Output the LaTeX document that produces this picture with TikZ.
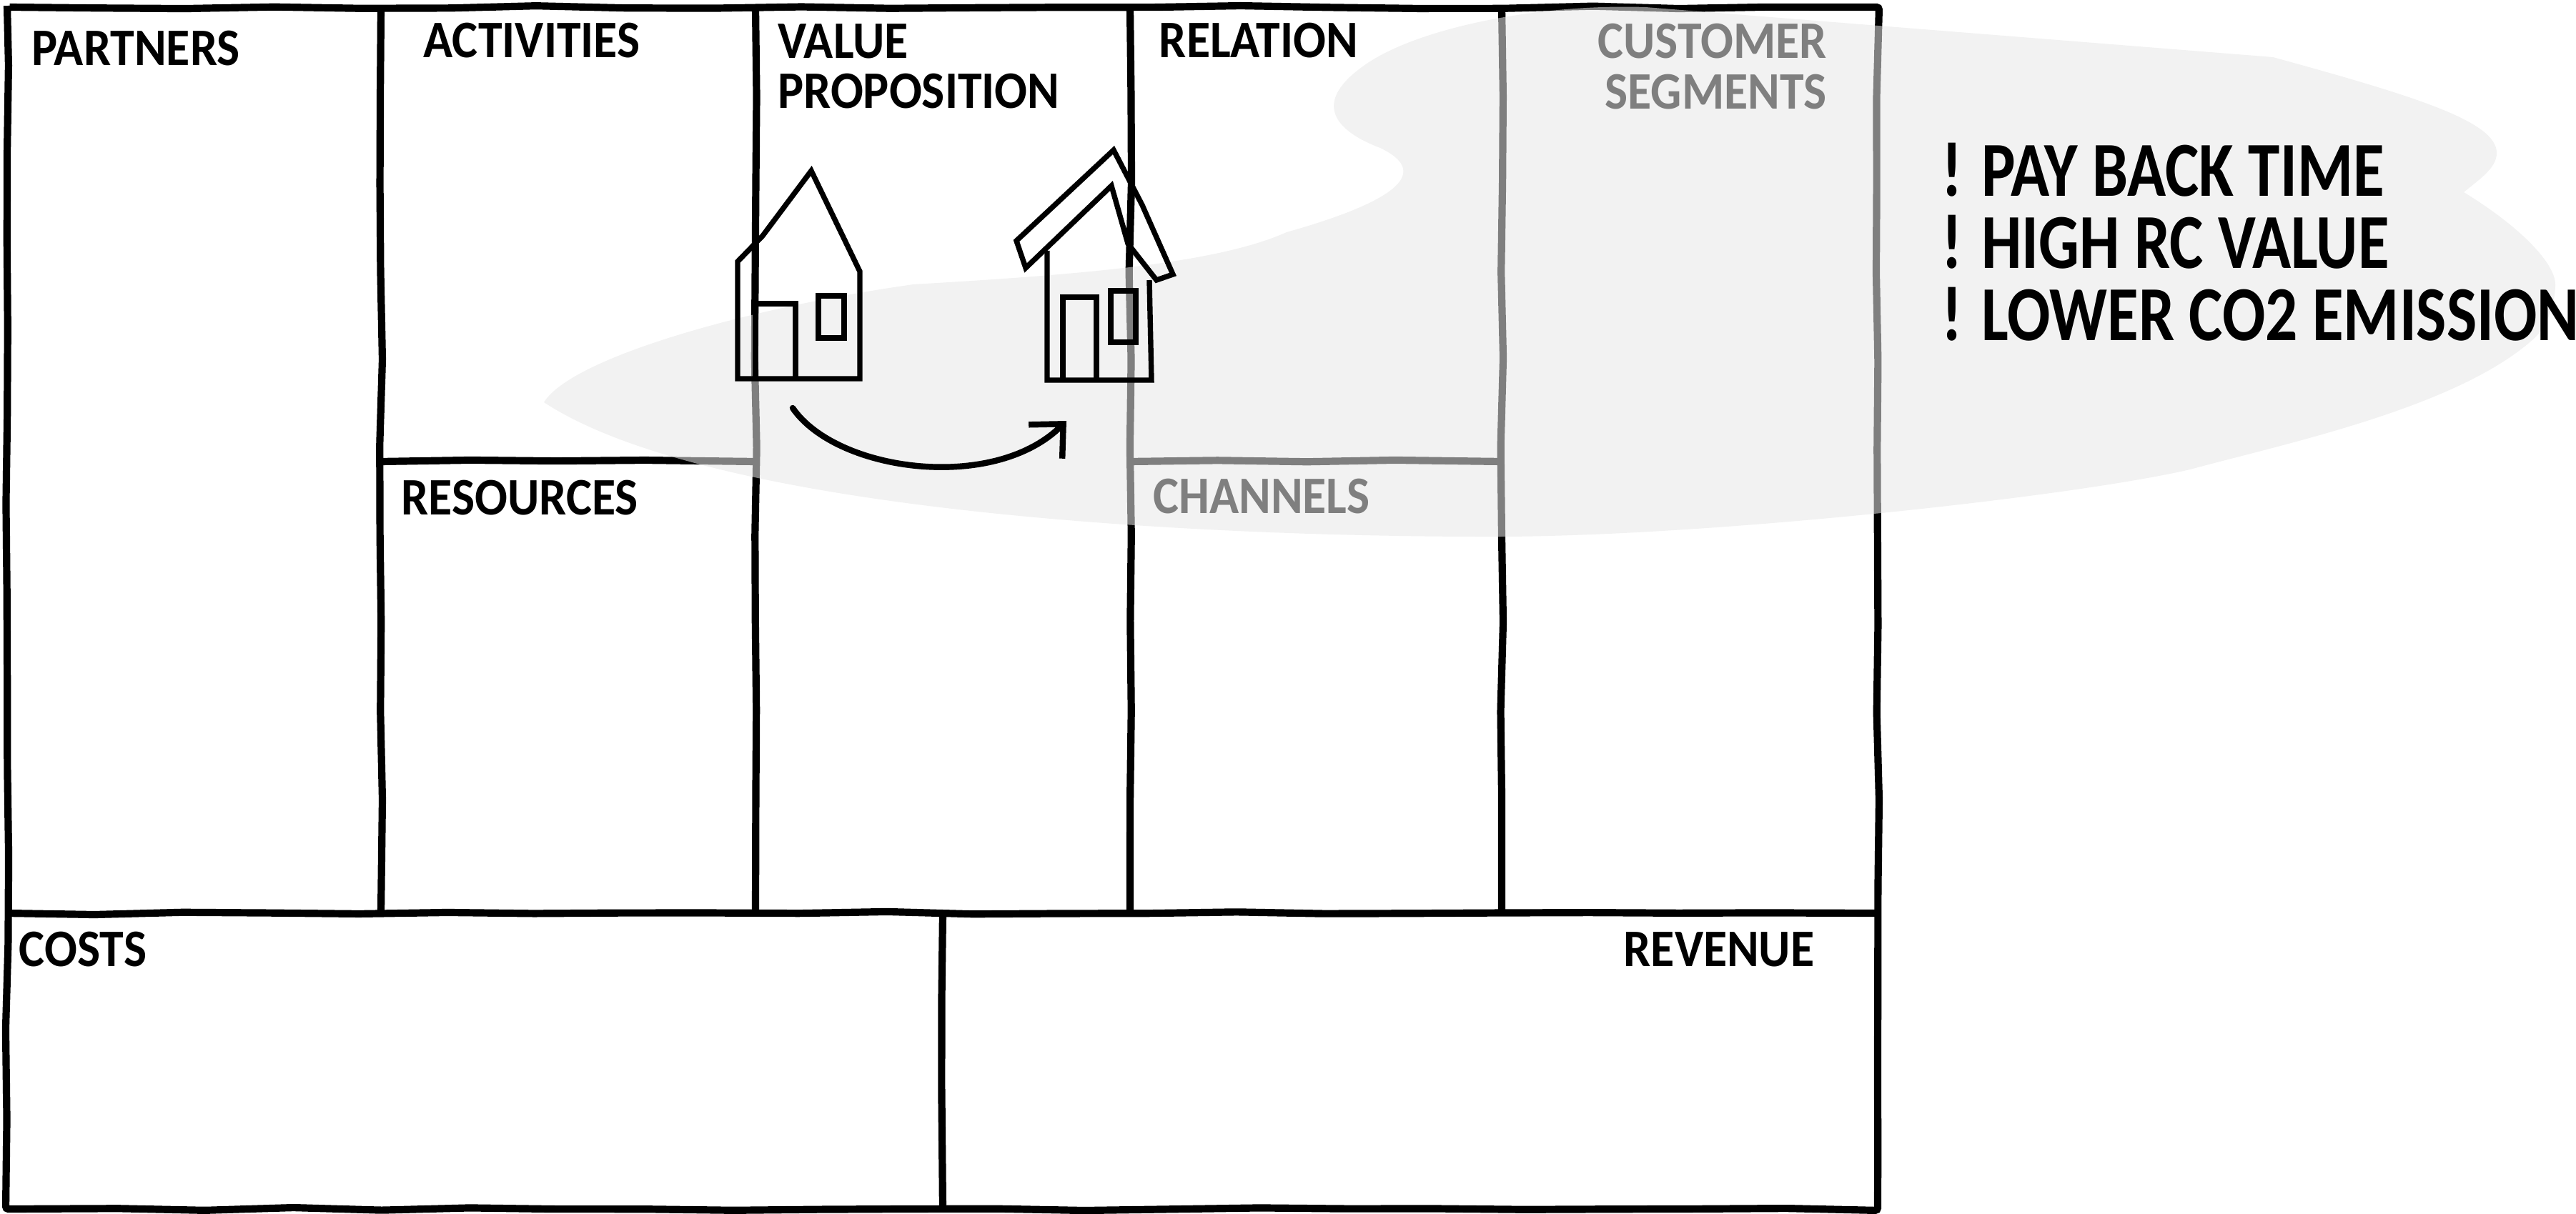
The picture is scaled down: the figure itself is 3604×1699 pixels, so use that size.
\documentclass[tikz,border=0pt]{standalone}
\usepackage{fontspec}
\usepackage{xcolor}
\usepackage{tikz}
\newfontfamily\labelfont{Carlito Bold}[FakeStretch=0.92]
\newfontfamily\notefont{Carlito Bold}[FakeStretch=0.82]
\usetikzlibrary{arrows.meta, decorations.pathmorphing}
\definecolor{blobgrey}{RGB}{231, 231, 231}
\tikzstyle{gridline} = [line width=5.8pt, rounded corners=2pt, decorate, decoration={random steps, segment length=70pt, amplitude=1.2pt}]
\tikzstyle{blob} = [fill=blobgrey, fill opacity=0.553]
\tikzstyle{houseline} = [line width=4.2pt, line join=miter]
\tikzstyle{label} = [inner sep=0pt, font=\fontsize{42}{40}\labelfont]
\tikzstyle{sidenote} = [inner sep=0pt, align=left, font=\fontsize{62}{57.5}\notefont]
\tikzstyle{arrow} = [-{Straight Barb[length=20pt, width=38pt, line width=4.8pt]}, line width=4.8pt, line cap=round]

\begin{document}
\begin{tikzpicture}[x=0.02cm, y=-0.02cm]
    \useasboundingbox (0, 0) rectangle (3604, 1699);
    \pgfmathsetseed{17}

    % Canvas
    \draw[gridline] (10, 10) -- (2627, 10) -- (2627, 1692) -- (10, 1692) -- cycle;
    \draw[gridline] (10, 1278) -- (2627, 1278);
    \draw[gridline] (533, 10) -- (533, 1278);
    \draw[gridline] (1057, 10) -- (1057, 1278);
    \draw[gridline] (1581, 10) -- (1581, 1278);
    \draw[gridline] (2101, 10) -- (2101, 1278);
    \draw[gridline] (1319, 1278) -- (1319, 1692);
    \draw[gridline] (533, 646) -- (1057, 646);
    \draw[gridline] (1581, 646) -- (2101, 646);

    % Labels
    \node[label] (partners) at (190, 68) {PARTNERS};
    \node[label] (activities) at (744, 57) {ACTIVITIES};
    \node[label, align=left, anchor=north west] (value) at (1088, 33) {VALUE\\PROPOSITION};
    \node[label] (relation) at (1761, 57) {RELATION};
    \node[label, align=right, anchor=north east] (segments) at (2556, 33) {CUSTOMER\\SEGMENTS};
    \node[label] (resources) at (727, 697) {RESOURCES};
    \node[label] (channels) at (1765, 695) {CHANNELS};
    \node[label] (costs) at (116, 1329) {COSTS};
    \node[label] (revenue) at (2405, 1329) {REVENUE};

    % Shaded area
    \path[blob] (761, 563) .. controls (800, 500) and (1050, 430) .. (1278, 398)
        .. controls (1500, 385) and (1700, 370) .. (1800, 325)
        .. controls (1960, 280) and (2000, 240) .. (1931, 207)
        .. controls (1860, 180) and (1840, 140) .. (1908, 92)
        .. controls (1980, 40) and (2150, 5) .. (2302, 10)
        -- (3180, 80)
        .. controls (3380, 135) and (3493, 170) .. (3493, 214)
        .. controls (3493, 235) and (3470, 250) .. (3447, 269)
        .. controls (3530, 320) and (3575, 370) .. (3575, 398)
        .. controls (3575, 430) and (3560, 460) .. (3546, 473)
        .. controls (3440, 570) and (3200, 620) .. (3064, 657)
        .. controls (2900, 695) and (2400, 750) .. (2100, 751)
        .. controls (1700, 752) and (1000, 720) .. (761, 563) -- cycle;

    % Old house
    \draw[houseline] (1032, 530) -- (1032, 366) -- (1067, 330) -- (1135, 239) -- (1203, 380) -- (1203, 530) -- cycle;
    \draw[houseline] (1057, 530) -- (1057, 425) -- (1113, 425) -- (1113, 530);
    \draw[houseline] (1145, 414) rectangle (1181, 473);

    % New house
    \draw[houseline] (1465, 351) -- (1465, 532) -- (1611, 532) -- (1608, 392);
    \draw[houseline] (1435, 375) -- (1422, 337) -- (1558, 210) -- (1598, 287) -- (1641, 384) -- (1618, 392) -- (1578, 341) -- (1555, 260) -- cycle;
    \draw[houseline] (1487, 532) -- (1487, 416) -- (1534, 416) -- (1534, 532);
    \draw[houseline] (1554, 407) rectangle (1589, 479);

    % Arrow
    \coordinate (oldhouse) at (1109, 571);
    \coordinate (newhouse) at (1492, 589);
    \draw[arrow] (oldhouse) .. controls (1170, 660) and (1390, 690) .. (newhouse);

    % Side notes
    \node[sidenote, anchor=north west] (notes) at (2716, 200) {! PAY BACK TIME\\! HIGH RC VALUE\\! LOWER CO2 EMISSION};
\end{tikzpicture}
\end{document}
